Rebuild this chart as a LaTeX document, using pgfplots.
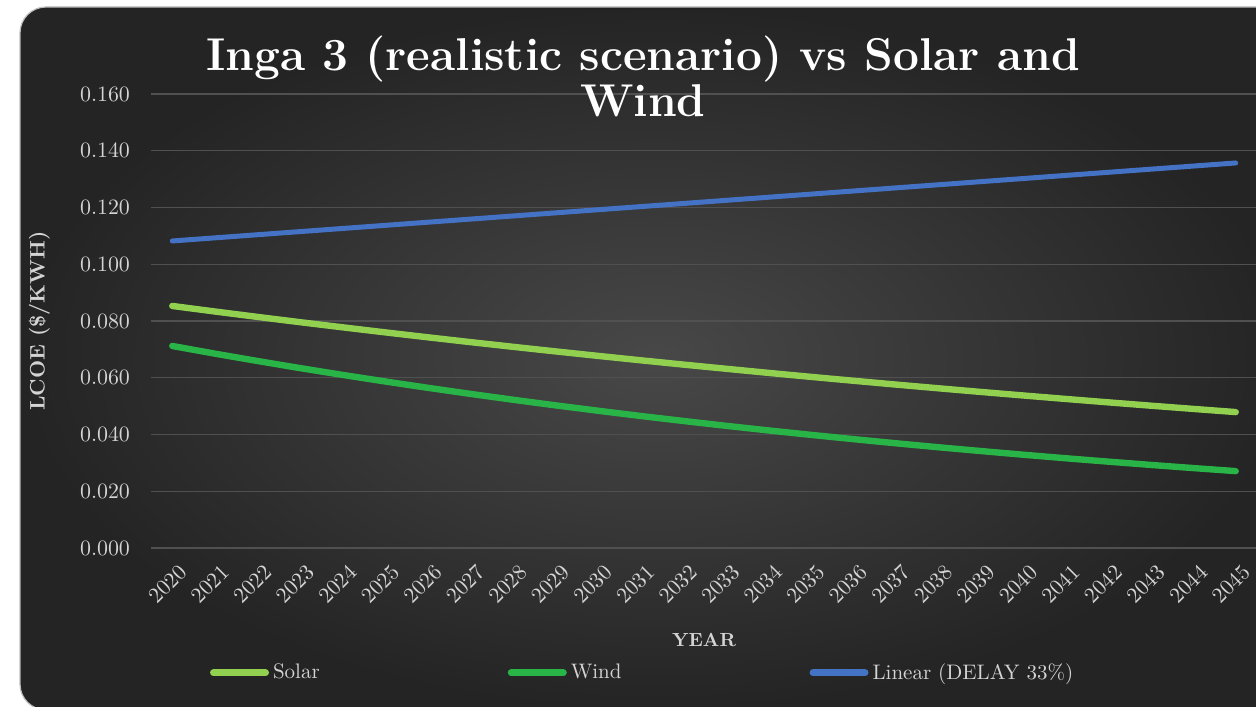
\documentclass[border=0pt]{standalone}
\usepackage{fontspec}
\usepackage{pgfplots}
\pgfplotsset{compat=1.18}
\definecolor{solarc}{HTML}{92D050}
\definecolor{windc}{HTML}{28B446}
\definecolor{linc}{HTML}{4472C4}
\definecolor{gridc}{HTML}{505050}
\definecolor{txtc}{HTML}{D4D4D4}
\begin{document}
\begin{tikzpicture}
\path[use as bounding box, clip] (0pt,0pt) rectangle (628pt,353pt);
\fill[white] (0pt,0pt) rectangle (628pt,353pt);
\shade[rounded corners=13pt, inner color={rgb,255:red,72;green,72;blue,72}, outer color={rgb,255:red,36;green,36;blue,36}, draw={rgb,255:red,190;green,190;blue,190}, line width=0.6pt] (10pt,-2pt) rectangle (645pt,349.5pt);
\begin{axis}[
  at={(75.5pt,79pt)}, anchor=south west,
  scale only axis, width=553pt, height=227pt,
  xmin=2019.5, xmax=2045.5, ymin=0, ymax=0.16,
  xtick={2020,2021,...,2045},
  ytick={0,0.02,...,0.16},
  ymajorgrids, major grid style={color=gridc, line width=0.7pt},
  axis line style={draw=none},
  major tick length=0pt,
  scaled y ticks=false,
  yticklabel style={/pgf/number format/.cd, fixed, fixed zerofill, precision=3, /tikz/.cd, color=txtc, font=\fontsize{10.5}{12}\selectfont, xshift=-7pt},
  xticklabel style={/pgf/number format/1000 sep={}, rotate=45, anchor=east, color=txtc, font=\fontsize{10.5}{12}\selectfont, xshift=0pt, yshift=-11pt},
  xlabel={YEAR}, ylabel={LCOE (\$/KWH)},
  xlabel style={at={(axis description cs:0.5,-0.203)}, anchor=center, color=txtc, font=\bfseries\fontsize{9.5}{11}\selectfont},
  ylabel style={at={(axis description cs:-0.101,0.5)}, anchor=center, rotate=0, color=txtc, font=\bfseries\fontsize{10.5}{12}\selectfont},
  legend columns=3,
  legend style={at={(axis description cs:0.053,-0.275)}, anchor=west, draw=none, fill=none, text=txtc, font=\fontsize{10.5}{12}\selectfont, /tikz/every even column/.append style={column sep=92pt}, inner sep=0pt},
  legend cell align=left,
  legend image code/.code={\draw[#1, line width=3.5pt, line cap=round] (0pt,0pt) -- (26pt,0pt);},
  every axis plot/.append style={line cap=round, line join=round},
]
\addplot[solarc, line width=3.2pt] coordinates {
(2020,0.0853)(2021,0.08335)(2022,0.08145)(2023,0.07959)(2024,0.07778)(2025,0.07600)(2026,0.07427)(2027,0.07257)(2028,0.07092)(2029,0.06930)(2030,0.06772)(2031,0.06617)(2032,0.06466)(2033,0.06319)(2034,0.06174)(2035,0.06033)(2036,0.05896)(2037,0.05761)(2038,0.05630)(2039,0.05501)(2040,0.05376)(2041,0.05253)(2042,0.05133)(2043,0.05016)(2044,0.04902)(2045,0.0479)};
\addlegendentry{Solar}
\addplot[windc, line width=3.2pt] coordinates {
(2020,0.0712)(2021,0.06850)(2022,0.06591)(2023,0.06341)(2024,0.06101)(2025,0.05870)(2026,0.05647)(2027,0.05433)(2028,0.05227)(2029,0.05029)(2030,0.04839)(2031,0.04655)(2032,0.04479)(2033,0.04309)(2034,0.04146)(2035,0.03989)(2036,0.03838)(2037,0.03692)(2038,0.03552)(2039,0.03418)(2040,0.03288)(2041,0.03163)(2042,0.03044)(2043,0.02928)(2044,0.02817)(2045,0.0271)};
\addlegendentry{Wind}
\addplot[linc, line width=2.5pt] coordinates {(2020,0.1082)(2045,0.1357)};
\addlegendentry{Linear (DELAY 33\%)}
\end{axis}
\node[align=center, text=white, font=\bfseries\fontsize{23}{23}\selectfont] at (321.5pt,315pt) {Inga 3 (realistic scenario) vs Solar and\\Wind};
\end{tikzpicture}
\end{document}
